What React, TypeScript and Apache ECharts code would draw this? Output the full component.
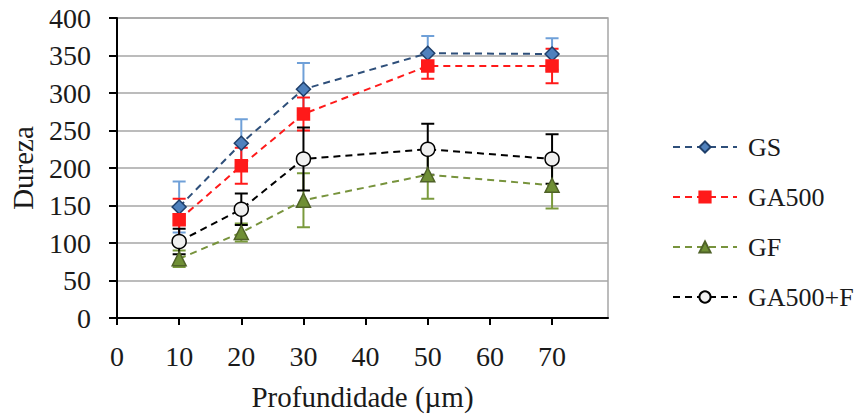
import React, { useEffect, useRef } from "react";
import * as echarts from "echarts";

const xValues = [10, 20, 30, 50, 70];
const xTickLabels = [0, 10, 20, 30, 40, 50, 60, 70];
const yTicks = [0, 50, 100, 150, 200, 250, 300, 350, 400];

const gsValues = [148, 233, 305, 353, 352];
const gsErrors = [34, 32, 35, 23, 21];
const ga500Values = [131, 203, 272, 336, 336];
const ga500Errors = [28, 24, 22, 17, 23];
const gfValues = [79, 114, 157, 191, 177];
const gfErrors = [11, 12, 36, 32, 31];
const gafValues = [102, 145, 212, 225, 212];
const gafErrors = [17, 21, 42, 34, 33];

const FONT = "Liberation Serif";
const TXT = "#1a1a1a";

function errorSeries(name: string, values: number[], errs: number[], color: string, z: number) {
  return {
    type: "custom",
    name: name + "_err",
    z,
    silent: true,
    data: xValues.map((x, i) => [x, values[i] - errs[i], values[i] + errs[i]]),
    renderItem: (params: any, api: any) => {
      const x = api.value(0);
      const lo = api.coord([x, api.value(1)]);
      const hi = api.coord([x, api.value(2)]);
      const half = 6.5;
      const style = { stroke: color, lineWidth: 2 };
      return {
        type: "group",
        children: [
          { type: "line", shape: { x1: lo[0], y1: lo[1], x2: hi[0], y2: hi[1] }, style },
          { type: "line", shape: { x1: lo[0] - half, y1: lo[1], x2: lo[0] + half, y2: lo[1] }, style },
          { type: "line", shape: { x1: hi[0] - half, y1: hi[1], x2: hi[0] + half, y2: hi[1] }, style },
        ],
      };
    },
  };
}

function lineSeries(name: string, values: number[], lineColor: string, symbol: string, size: number, fill: string, border: string, z: number) {
  return {
    type: "line",
    name,
    z,
    data: xValues.map((x, i) => [x, values[i]]),
    symbol,
    symbolSize: size,
    showAllSymbol: true,
    lineStyle: { color: lineColor, width: 2, type: [7, 5] },
    itemStyle: { color: fill, borderColor: border, borderWidth: 1.5 },
  };
}

export default function App() {
  const ref = useRef<HTMLDivElement>(null);
  useEffect(() => {
    if (!ref.current) return;
    const chart = echarts.init(ref.current, undefined, { renderer: "svg" });
    chart.setOption({
      animation: false,
      textStyle: { fontFamily: FONT },
      grid: {
        left: 117,
        right: 250,
        top: 18,
        bottom: 100,
        show: true,
        borderColor: "#a6a6a6",
        borderWidth: 1.5,
      },
      legend: {
        orient: "vertical",
        left: 667,
        top: 129,
        itemWidth: 64,
        itemHeight: 14,
        itemGap: 24,
        textStyle: { fontFamily: FONT, fontSize: 26, color: TXT, padding: [0, 0, 0, 6] },
        data: ["GS", "GA500", "GF", "GA500+F"],
      },
      xAxis: {
        type: "value",
        min: 0,
        max: 79,
        interval: 10,
        name: "Profundidade (µm)",
        nameLocation: "middle",
        nameGap: 64,
        nameTextStyle: { fontFamily: FONT, fontSize: 29, color: TXT },
        axisLine: { show: true, lineStyle: { color: "#000", width: 2 } },
        axisTick: { show: true, length: 7, lineStyle: { color: "#000", width: 2 }, customValues: xTickLabels },
        axisLabel: { customValues: xTickLabels, margin: 24, fontFamily: FONT, fontSize: 28, color: TXT },
        splitLine: { show: false },
      },
      yAxis: {
        type: "value",
        min: 0,
        max: 400,
        interval: 50,
        name: "Dureza",
        nameLocation: "middle",
        nameGap: 80,
        nameTextStyle: { fontFamily: FONT, fontSize: 29, color: TXT },
        axisLine: { show: true, lineStyle: { color: "#000", width: 2 } },
        axisTick: { show: true, length: 8, lineStyle: { color: "#000", width: 2 } },
        axisLabel: { margin: 26, fontFamily: FONT, fontSize: 28, color: TXT, customValues: yTicks },
        splitLine: { show: true, lineStyle: { color: "#a6a6a6", width: 1.5 } },
      },
      series: [
        errorSeries("GS", gsValues, gsErrors, "#6fa0d8", 2),
        errorSeries("GA500", ga500Values, ga500Errors, "#ff1a1a", 2),
        errorSeries("GF", gfValues, gfErrors, "#7a9a3c", 2),
        errorSeries("GA500+F", gafValues, gafErrors, "#000000", 2),
        lineSeries("GS", gsValues, "#2e4f7a", "diamond", 14, "#4f81bd", "#1f3f6a", 3),
        lineSeries("GA500", ga500Values, "#ff1a1a", "rect", 12, "#ff1a1a", "#ff1a1a", 3),
        lineSeries("GF", gfValues, "#77933c", "triangle", 14, "#6f8f35", "#4f6228", 3),
        lineSeries("GA500+F", gafValues, "#000000", "circle", 14, "#f0f0f0", "#000000", 4),
      ],
    });
    return () => chart.dispose();
  }, []);
  return <div ref={ref} style={{ width: 858, height: 418, position: "absolute", left: 0, top: 0, background: "#fff" }} />;
}
